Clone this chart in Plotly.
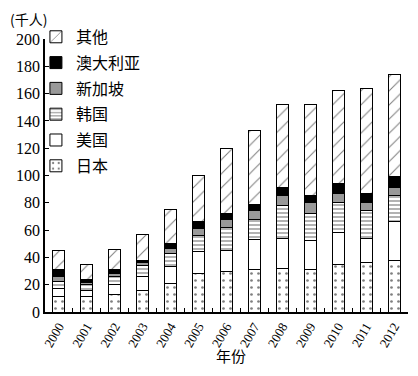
import plotly.graph_objects as go

years = ["2000", "2001", "2002", "2003", "2004", "2005", "2006", "2007", "2008", "2009", "2010", "2011", "2012"]
japan = [11, 11, 13, 16, 21, 28, 30, 31, 32, 31, 34.5, 36.5, 38]
usa = [6, 5, 7, 10, 12, 16, 15, 22, 22, 21.5, 24, 17, 28]
korea = [5, 4, 6, 8, 10, 12, 17, 15, 24, 20, 22, 21, 19.5]
singapore = [4, 1.5, 2, 2, 3.5, 5.5, 6, 6, 7, 7.5, 6.5, 6, 6]
australia = [5, 2.5, 3, 2, 3.5, 4.5, 4.5, 5, 6, 5.5, 7, 6.5, 7.5]
other = [14, 11, 15, 19, 25, 34, 47.5, 54, 61, 66.5, 68, 77, 75]

series = [
    ("日本", japan, "white", ".", 7, 0.12),
    ("美国", usa, "white", "", 0, 0),
    ("韩国", korea, "white", "-", 4, 0.3),
    ("新加坡", singapore, "#999999", "", 0, 0),
    ("澳大利亚", australia, "black", "", 0, 0),
    ("其他", other, "white", "/", 10, 0.1),
]

fig = go.Figure()
n = len(series)
for i, (name, vals, color, shape, psize, sol) in enumerate(series):
    marker = dict(color=color, line=dict(color="black", width=1))
    if shape:
        marker["pattern"] = dict(shape=shape, fgcolor="black", bgcolor=color, size=psize, solidity=sol)
    fig.add_trace(go.Bar(x=years, y=vals, name=name, marker=marker, legendgroup=name,
                         legendrank=1000 + (n - i)))

fig.update_layout(
    barmode="stack",
    bargap=0.57,
    width=410, height=368,
    margin=dict(l=37, r=10, t=31, b=64, autoexpand=False),
    paper_bgcolor="white", plot_bgcolor="white",
    font=dict(family="Liberation Serif", size=14, color="black"),
    legend=dict(x=-0.025, y=1.07, xanchor="left", yanchor="top", traceorder="grouped",
                tracegroupgap=2, font=dict(family="Noto Sans CJK SC", size=16),
                bgcolor="rgba(0,0,0,0)", itemwidth=30),
    xaxis=dict(showline=True, linecolor="black", linewidth=1.5, ticks="inside",
               tickson="boundaries", ticklen=4, tickcolor="black", tickangle=-60,
               showgrid=False, tickfont=dict(size=13)),
    yaxis=dict(range=[0, 200], dtick=20, showline=True, linecolor="black", linewidth=1.5,
               ticks="inside", ticklen=4, tickcolor="black", showgrid=False, zeroline=False,
               tickfont=dict(size=16)),
    annotations=[
        dict(text="(千人)", xref="paper", yref="paper", x=-0.045, y=1.075,
             xanchor="center", yanchor="middle", showarrow=False,
             font=dict(family="Noto Sans CJK SC", size=14)),
        dict(text="年份", xref="paper", yref="paper", x=0.512, y=-0.16,
             xanchor="center", yanchor="middle", showarrow=False,
             font=dict(family="Noto Sans CJK SC", size=15)),
    ],
)

fig.write_html("out.html")
